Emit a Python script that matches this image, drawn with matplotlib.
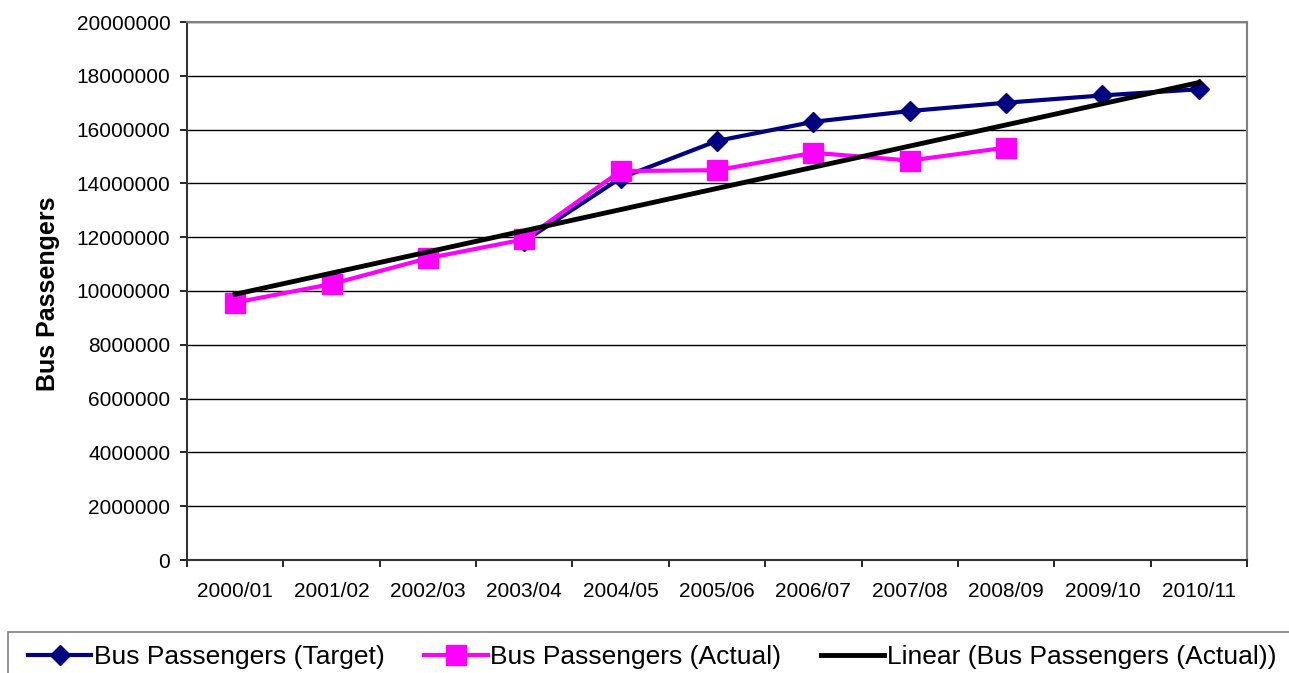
import numpy as np
import matplotlib.pyplot as plt
from matplotlib.patches import Rectangle
from matplotlib.ticker import FuncFormatter

plt.rcParams['font.family'] = ['Liberation Sans', 'DejaVu Sans']

years = ['2000/01', '2001/02', '2002/03', '2003/04', '2004/05', '2005/06',
         '2006/07', '2007/08', '2008/09', '2009/10', '2010/11']

# target series starts at 2003/04
target_years = years[3:]
target = [11850000, 14200000, 15580000, 16290000, 16690000, 17000000,
          17270000, 17500000]

actual_years = years[:9]
actual = [9570000, 10260000, 11220000, 11920000, 14460000, 14490000,
          15140000, 14850000, 15330000]

x_all = np.arange(1, len(years) + 1)
x_target = np.array([years.index(y) + 1 for y in target_years])
x_actual = np.array([years.index(y) + 1 for y in actual_years])

# linear trend of the actual figures, extended to the last year
coef = np.polyfit(x_actual, actual, 1)
trend = np.polyval(coef, x_all)

fig = plt.figure(figsize=(12.89, 6.73), dpi=100)
ax = fig.add_axes([187 / 1289, 113 / 673, 1060 / 1289, 538 / 673])

ax.plot(x_target, target, color='#000080', lw=3, marker='D', ms=10,
        label='Bus Passengers (Target)', zorder=3)
ax.plot(x_actual, actual, color='#FF00FF', lw=3, marker='s', ms=14,
        label='Bus Passengers (Actual)', zorder=4)
ax.plot(x_all, trend, color='black', lw=3.5,
        label='Linear (Bus Passengers (Actual))', zorder=5)

ax.set_xlim(0.5, len(years) + 0.5)
ax.set_ylim(0, 20000000)
ax.set_yticks(np.arange(0, 20000001, 2000000))
ax.yaxis.set_major_formatter(FuncFormatter(lambda v, p: '%d' % v))
ax.set_xticks(x_all)
ax.set_xticklabels(years)
ax.set_xticks(np.arange(0.5, len(years) + 1, 1), minor=True)

ax.tick_params(axis='x', which='major', length=0, pad=16, labelsize=15)
ax.tick_params(axis='x', which='minor', length=5, width=1.2, direction='out')
ax.tick_params(axis='y', length=5, width=1.2, direction='out', pad=7,
               labelsize=15)

ax.grid(axis='y', color='black', lw=1)
ax.set_axisbelow(True)
for side in ['top', 'right']:
    ax.spines[side].set_color('#808080')
    ax.spines[side].set_linewidth(1.5)
for side in ['left', 'bottom']:
    ax.spines[side].set_color('#333333')
    ax.spines[side].set_linewidth(1.5)

fig.text(48 / 1289, 1 - 294 / 673, 'Bus Passengers', rotation=90,
         fontsize=18, fontweight='bold', ha='center', va='center')

# legend box running off the bottom right corner
fig.patches.append(Rectangle((8 / 1289, -0.2), 1.2, 0.2 + 41 / 673,
                             transform=fig.transFigure, fill=False,
                             edgecolor='#808080', lw=1.2))
fig.legend(loc='center left', bbox_to_anchor=(28 / 1289, 1 - 657 / 673),
           ncol=3, frameon=False, fontsize=19, borderpad=0, borderaxespad=0,
           handlelength=2.4, handletextpad=0.1, columnspacing=1.5)

fig.savefig('out.png', dpi=100)
